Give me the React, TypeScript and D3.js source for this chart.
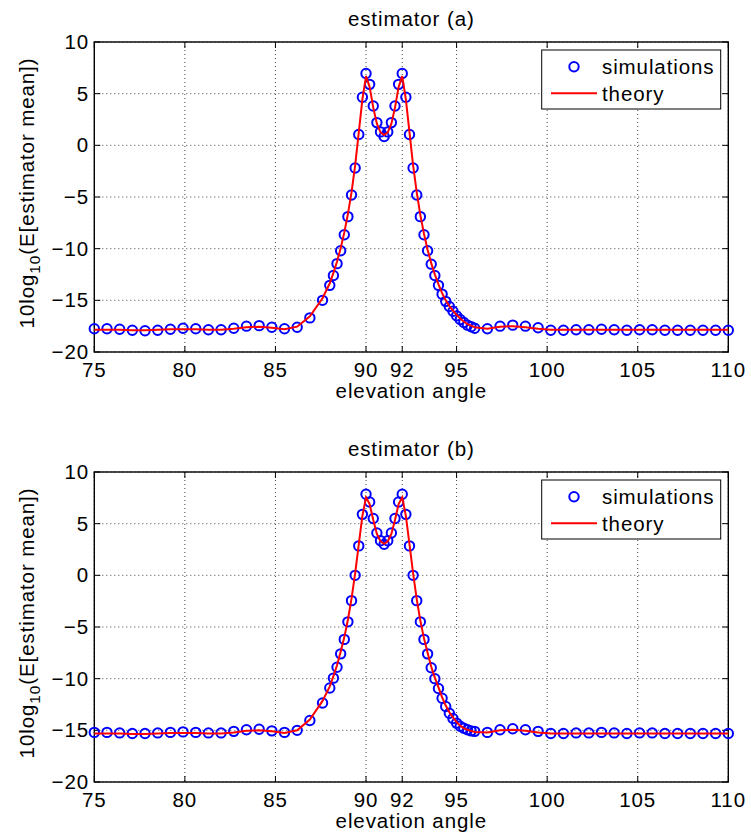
import React from "react";
import * as d3 from "d3";

const angles = [75, 75.7, 76.4, 77.1, 77.8, 78.5, 79.2, 79.9, 80.6, 81.3, 82, 82.7, 83.4, 84.1, 84.8, 85.5, 86.2, 86.9, 87.6,
  88, 88.2, 88.4, 88.6, 88.8, 89, 89.2, 89.4, 89.6, 89.8, 90, 90.2, 90.4, 90.6, 90.8, 91, 91.2, 91.4, 91.6, 91.8, 92, 92.2, 92.4, 92.6, 92.8, 93, 93.2, 93.4, 93.6, 93.8, 94, 94.2, 94.4, 94.6, 94.8, 95, 95.2, 95.4, 95.6, 95.8, 96,
  96.7, 97.4, 98.1, 98.8, 99.5, 100.2, 100.9, 101.6, 102.3, 103, 103.7, 104.4, 105.1, 105.8, 106.5, 107.2, 107.9, 108.6, 109.3, 110];

const simA = [-17.75, -17.75, -17.8, -17.9, -17.95, -17.9, -17.8, -17.7, -17.75, -17.85, -17.85, -17.7, -17.5, -17.45, -17.6, -17.75, -17.6, -16.7, -15.0,
  -13.55, -12.6, -11.45, -10.2, -8.65, -6.9, -4.8, -2.2, 1.05, 4.65, 6.95, 5.9, 3.8, 2.2, 1.3, 0.85, 1.3, 2.2, 3.8, 5.9, 6.95, 4.65, 1.05, -2.2, -4.8, -6.9, -8.65, -10.2, -11.5, -12.6, -13.55, -14.4, -15.1, -15.6, -16.05, -16.5, -16.85, -17.15, -17.4, -17.55, -17.7,
  -17.75, -17.5, -17.4, -17.5, -17.65, -17.9, -17.9, -17.85, -17.85, -17.8, -17.85, -17.9, -17.85, -17.85, -17.9, -17.9, -17.9, -17.9, -17.9, -17.9];

const theoryA = [-17.85, -17.85, -17.85, -17.9, -17.9, -17.85, -17.8, -17.8, -17.8, -17.85, -17.85, -17.75, -17.6, -17.55, -17.65, -17.8, -17.55, -16.55, -14.8,
  -13.35, -12.35, -11.25, -9.95, -8.45, -6.65, -4.55, -1.95, 1.25, 4.45, 6.7, 5.65, 3.65, 2.1, 1.25, 1.0, 1.25, 2.1, 3.65, 5.65, 6.7, 4.45, 1.25, -1.95, -4.55, -6.75, -8.55, -10.1, -11.4, -12.5, -13.45, -14.3, -15.0, -15.55, -16.0, -16.4, -16.75, -17.05, -17.3, -17.45, -17.6,
  -17.75, -17.55, -17.5, -17.6, -17.75, -17.85, -17.85, -17.85, -17.85, -17.85, -17.85, -17.85, -17.85, -17.85, -17.85, -17.85, -17.85, -17.85, -17.85, -17.85];

const simB = [-15.2, -15.2, -15.25, -15.3, -15.3, -15.25, -15.2, -15.15, -15.2, -15.25, -15.25, -15.1, -14.95, -14.9, -15.05, -15.2, -15.0, -14.05, -12.35,
  -10.9, -9.95, -8.9, -7.6, -6.2, -4.5, -2.45, 0.0, 2.85, 5.9, 7.85, 7.1, 5.5, 4.1, 3.35, 3.0, 3.35, 4.1, 5.5, 7.1, 7.85, 5.9, 2.85, 0.0, -2.45, -4.5, -6.2, -7.6, -8.95, -10.0, -10.95, -11.9, -12.7, -13.35, -13.85, -14.3, -14.6, -14.8, -14.95, -15.05, -15.1,
  -15.2, -14.95, -14.85, -14.95, -15.1, -15.3, -15.3, -15.25, -15.25, -15.2, -15.25, -15.3, -15.25, -15.25, -15.3, -15.3, -15.3, -15.3, -15.3, -15.3];

const theoryB = [-15.3, -15.3, -15.3, -15.35, -15.35, -15.3, -15.25, -15.25, -15.25, -15.3, -15.3, -15.2, -15.05, -15.0, -15.1, -15.25, -15.0, -13.95, -12.15,
  -10.75, -9.75, -8.7, -7.4, -6.0, -4.3, -2.25, 0.2, 3.0, 5.75, 7.55, 6.9, 5.35, 4.0, 3.3, 3.05, 3.3, 4.0, 5.35, 6.9, 7.55, 5.75, 3.0, 0.2, -2.3, -4.4, -6.1, -7.5, -8.85, -9.9, -10.85, -11.8, -12.6, -13.25, -13.75, -14.2, -14.55, -14.8, -14.95, -15.05, -15.15,
  -15.2, -15.0, -14.95, -15.05, -15.2, -15.3, -15.3, -15.3, -15.3, -15.3, -15.3, -15.3, -15.3, -15.3, -15.3, -15.3, -15.3, -15.3, -15.3, -15.3];

const xTicks = [75, 80, 85, 90, 92, 95, 100, 105, 110];
const yTicks = [-20, -15, -10, -5, 0, 5, 10];
const titles = ["estimator (a)", "estimator (b)"];
const legendLabels = ["simulations", "theory"];
const xLabel = "elevation angle";

const FONT = "'Liberation Sans', Arial, Helvetica, sans-serif";
const L = 94.3, R = 728.3, H = 310;

function fmt(v: number) {
  return v < 0 ? "\u2212" + Math.abs(v) : String(v);
}

function Panel({ top, title, sim, theory }: { top: number; title: string; sim: number[]; theory: number[] }) {
  const x = d3.scaleLinear().domain([75, 110]).range([L, R]);
  const y = d3.scaleLinear().domain([-20, 10]).range([top + H, top]);
  const pts = angles.map((a, i) => [a, theory[i]] as [number, number]);
  const line = d3.line<[number, number]>().x(d => x(d[0])).y(d => y(d[1]));
  const bottom = top + H;
  const tk = 6;
  const lx = 541.7, ly = top + 8, lw = 179, lh = 59;
  return (
    <g fontFamily={FONT} fontSize={20.5} letterSpacing={0.9}>
      <text x={(L + R) / 2} y={top - 16} textAnchor="middle">{title}</text>
      {xTicks.map(t => (
        <line key={"gx" + t} x1={x(t)} x2={x(t)} y1={top} y2={bottom} stroke="#444" strokeWidth={1} strokeDasharray="1,3" />
      ))}
      {yTicks.map(t => (
        <line key={"gy" + t} x1={L} x2={R} y1={y(t)} y2={y(t)} stroke="#444" strokeWidth={1} strokeDasharray="1,3" />
      ))}
      {xTicks.map(t => (
        <g key={"tx" + t}>
          <line x1={x(t)} x2={x(t)} y1={bottom} y2={bottom - tk} stroke="#000" />
          <line x1={x(t)} x2={x(t)} y1={top} y2={top + tk} stroke="#000" />
          <text x={x(t)} y={bottom + 25} textAnchor="middle">{t}</text>
        </g>
      ))}
      {yTicks.map(t => (
        <g key={"ty" + t}>
          <line x1={L} x2={L + tk} y1={y(t)} y2={y(t)} stroke="#000" />
          <line x1={R} x2={R - tk} y1={y(t)} y2={y(t)} stroke="#000" />
          <text x={89} y={y(t) + 7} textAnchor="end">{fmt(t)}</text>
        </g>
      ))}
      <rect x={L} y={top} width={R - L} height={H} fill="none" stroke="#000" strokeWidth={1.4} />
      {angles.map((a, i) => (
        <circle key={"c" + i} cx={x(a)} cy={y(sim[i])} r={4.7} fill="none" stroke="#0000ff" strokeWidth={2} />
      ))}
      <path d={line(pts) || ""} fill="none" stroke="#ff0000" strokeWidth={2} />
      <text x={(L + R) / 2} y={bottom + 46} textAnchor="middle">{xLabel}</text>
      <text transform={`translate(33.5, ${top + H / 2 - 4}) rotate(-90)`} textAnchor="middle">
        10log<tspan fontSize={15.5} dy={6}>10</tspan><tspan dy={-6}>(E[estimator mean])</tspan>
      </text>
      <rect x={lx} y={ly} width={lw} height={lh} fill="#fff" stroke="#000" strokeWidth={1} />
      <circle cx={574} cy={ly + 16.7} r={4.7} fill="none" stroke="#0000ff" strokeWidth={2} />
      <text x={602} y={ly + 23.5}>{legendLabels[0]}</text>
      <line x1={551} x2={597} y1={ly + 43.3} y2={ly + 43.3} stroke="#ff0000" strokeWidth={2} />
      <text x={602} y={ly + 50.5}>{legendLabels[1]}</text>
    </g>
  );
}

export default function App() {
  return (
    <svg width={751} height={839} style={{ position: "absolute", left: 0, top: 0, background: "#fff" }}>
      <rect width={751} height={839} fill="#fff" />
      <Panel top={42} title={titles[0]} sim={simA} theory={theoryA} />
      <Panel top={472} title={titles[1]} sim={simB} theory={theoryB} />
    </svg>
  );
}
